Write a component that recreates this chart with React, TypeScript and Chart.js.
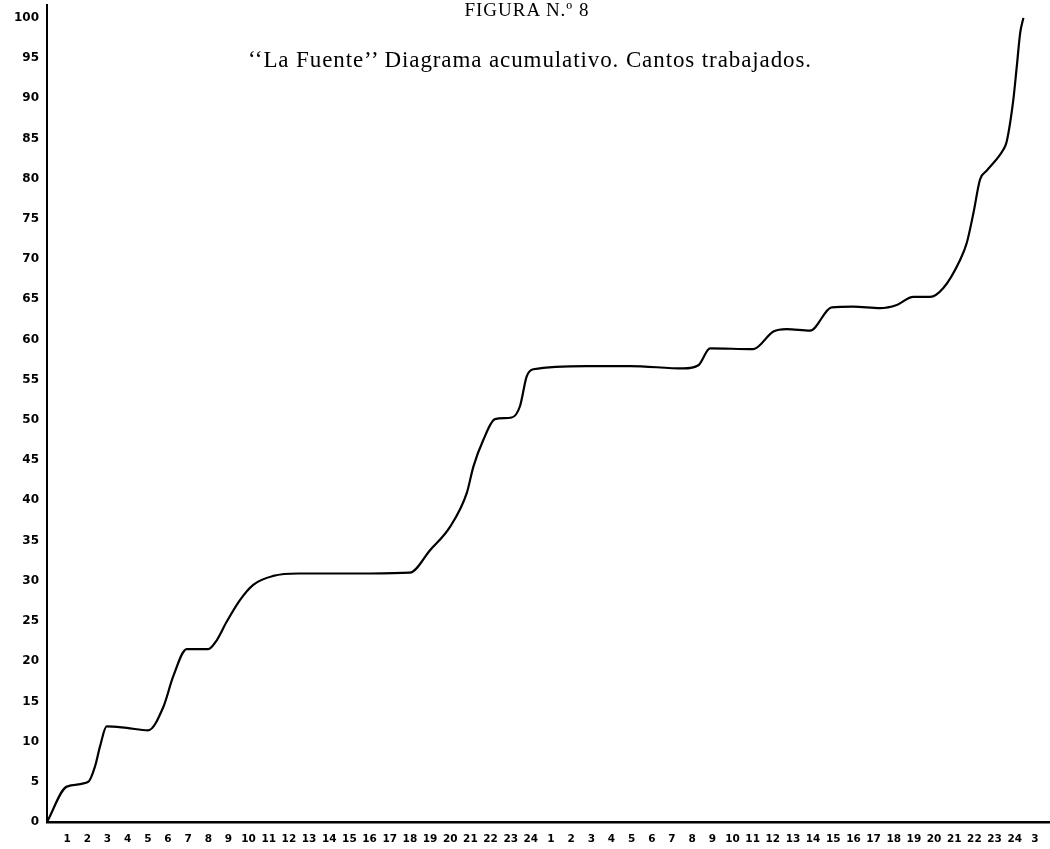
import React, { useEffect, useRef } from "react";
import { Chart, registerables } from "chart.js";

Chart.register(...registerables);

// X tick labels (hours of two consecutive days, positions 1..49)
const xTickLabels = [
  "1", "2", "3", "4", "5", "6", "7", "8", "9", "10", "11", "12",
  "13", "14", "15", "16", "17", "18", "19", "20", "21", "22", "23", "24",
  "1", "2", "3", "4", "5", "6", "7", "8", "9", "10", "11", "12",
  "13", "14", "15", "16", "17", "18", "19", "20", "21", "22", "23", "24",
  "3",
];

// Y tick values (percent)
const yTickValues = [0, 5, 10, 15, 20, 25, 30, 35, 40, 45, 50, 55, 60, 65, 70, 75, 80, 85, 90, 95, 100];

// Cumulative curve: elapsed hour position vs cumulative percentage
const curveHours = [
  0, 0.98, 2.05, 2.38, 2.63, 2.96, 3.95, 5.02, 5.77, 6.26, 6.93, 8.0, 8.42,
  8.91, 9.57, 10.23, 11.22, 12.47, 16.02, 18.0, 19.0, 19.99, 20.82, 21.15,
  21.64, 22.22, 23.05, 23.46, 23.79, 24.12, 26.77, 28.92, 31.56, 32.31, 32.89,
  35.03, 36.03, 36.69, 37.85, 38.92, 39.99, 41.32, 42.15, 42.97, 43.8, 44.46,
  45.29, 45.62, 45.95, 46.28, 46.61, 47.43, 47.6, 47.93, 48.1, 48.27, 48.43,
];
const curvePercent = [
  0, 4.4, 5.0, 6.9, 9.4, 11.9, 11.7, 11.4, 14.3, 18.1, 21.5, 21.5, 22.6,
  24.9, 27.6, 29.5, 30.6, 30.9, 30.9, 31.0, 33.8, 36.7, 40.9, 44.2,
  47.5, 50.1, 50.3, 51.7, 55.4, 56.3, 56.7, 56.7, 56.4, 56.8, 58.9,
  58.8, 61.0, 61.3, 61.1, 64.0, 64.1, 63.9, 64.3, 65.3, 65.3, 66.4,
  69.9, 72.0, 75.7, 79.9, 81.0, 83.6, 84.6, 89.8, 93.9, 98.1, 100,
];

const titleText = "FIGURA N.º 8";
const subtitleText = "\u2018\u2018La Fuente\u2019\u2019 Diagrama acumulativo. Cantos trabajados.";

export default function App() {
  const canvasRef = useRef<HTMLCanvasElement | null>(null);

  useEffect(() => {
    document.body.style.margin = "0";
    const canvas = canvasRef.current;
    if (!canvas) return;
    const points = curveHours.map((h, i) => ({ x: h, y: curvePercent[i] }));
    const chart = new Chart(canvas, {
      type: "line",
      data: {
        datasets: [
          {
            data: points,
            borderColor: "#000",
            borderWidth: 2.2,
            pointRadius: 0,
            cubicInterpolationMode: "monotone",
            fill: false,
          },
        ],
      },
      options: {
        animation: false,
        responsive: false,
        layout: { padding: { top: 5, right: 0, left: 0, bottom: 0 } },
        plugins: {
          legend: { display: false },
          tooltip: { enabled: false },
          title: { display: false },
        },
        scales: {
          x: {
            type: "linear",
            min: 0,
            max: 49.75,
            grid: { display: false, drawTicks: false },
            border: { display: true, color: "#000", width: 2.5 },
            afterFit: (scale: any) => {
              scale.height = 27;
              scale.paddingLeft = 0;
              scale.paddingRight = 0;
            },
            afterBuildTicks: (scale: any) => {
              scale.ticks = xTickLabels.map((_, i) => ({ value: i + 1 }));
            },
            ticks: {
              autoSkip: false,
              maxRotation: 0,
              minRotation: 0,
              padding: 11,
              color: "#000",
              font: { family: "DejaVu Sans", size: 10.5, weight: "bold" },
              callback: (v: any) => xTickLabels[Number(v) - 1] ?? "",
            },
          },
          y: {
            type: "linear",
            min: 0,
            max: 101.6,
            grid: { display: false, drawTicks: false },
            border: { display: true, color: "#000", width: 2 },
            afterFit: (scale: any) => {
              scale.width = 47;
              scale.paddingTop = 0;
              scale.paddingBottom = 0;
            },
            afterBuildTicks: (scale: any) => {
              scale.ticks = yTickValues.map((v) => ({ value: v }));
            },
            ticks: {
              padding: 8,
              color: "#000",
              font: { family: "DejaVu Sans", size: 12, weight: "bold" },
            },
          },
        },
      },
    });
    return () => chart.destroy();
  }, []);

  return (
    <div style={{ position: "relative", width: 1050, height: 849, background: "#fff" }}>
      <canvas ref={canvasRef} width={1050} height={849} style={{ display: "block" }} />
      <div
        style={{
          position: "absolute",
          left: 0,
          width: 1054,
          top: 0,
          textAlign: "center",
          fontFamily: "'Liberation Serif', serif",
          fontSize: 19,
          letterSpacing: "1px",
          lineHeight: "20px",
          color: "#000",
        }}
      >
        {titleText}
      </div>
      <div
        style={{
          position: "absolute",
          left: 0,
          width: 1060,
          top: 46,
          textAlign: "center",
          fontFamily: "'Liberation Serif', serif",
          fontSize: 23,
          letterSpacing: "0.9px",
          lineHeight: "28px",
          color: "#000",
        }}
      >
        {subtitleText}
      </div>
    </div>
  );
}
